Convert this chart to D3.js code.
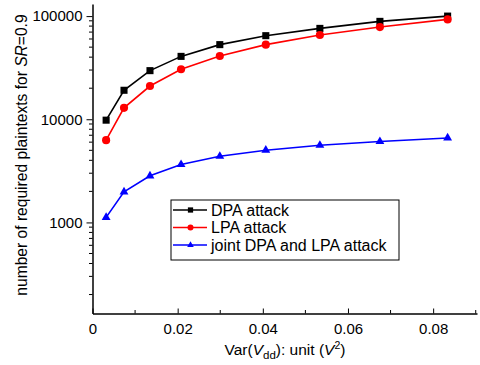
<!DOCTYPE html>
<html>
<head>
<meta charset="utf-8">
<script src="https://cdn.jsdelivr.net/npm/d3@7"></script>
<style>
  body { margin: 0; background: #fff; }
  text { font-family: "Liberation Sans", Arial, sans-serif; }
</style>
</head>
<body>
<div id="container"></div>
<script>
// data
const varVdd = [0.0032, 0.0074, 0.0135, 0.0208, 0.0299, 0.0407, 0.0534, 0.0675, 0.0834];
const dpa = [9800, 19100, 29600, 40700, 52900, 64600, 76000, 88900, 100000];
const lpa = [6270, 12900, 21000, 30500, 41000, 52900, 65500, 78300, 92900];
const joint = [1120, 1980, 2830, 3640, 4380, 5010, 5600, 6080, 6590];
const xTicks = [0, 0.02, 0.04, 0.06, 0.08];
const yTicks = [1000, 10000, 100000];

const series = [
  { name: "DPA attack", values: dpa, color: "#000000", symbol: d3.symbolSquare, size: 50 },
  { name: "LPA attack", values: lpa, color: "#ff0000", symbol: d3.symbolCircle, size: 52 },
  { name: "joint DPA and LPA attack", values: joint, color: "#0000ff", symbol: d3.symbolTriangle, size: 34 }
];

const width = 480, height = 365;
const mLeft = 92.5, mRight = 477, mTop = 4, mBottom = 313.5;

const svg = d3.select("#container").append("svg")
  .attr("width", width)
  .attr("height", height);

const x = d3.scaleLinear().domain([0, 0.0903]).range([mLeft, mRight]);
const y = d3.scaleLog().domain([131, 131000]).range([mBottom, mTop]);

// minor ticks on y (2..9 of each decade)
const yMinor = [];
[100, 1000, 10000, 100000].forEach(dec => {
  for (let k = 2; k <= 9; k++) {
    const v = dec * k;
    if (v > 131 && v < 131000) yMinor.push(v);
  }
});

const yAxis = svg.append("g").attr("transform", `translate(${mLeft},0)`);
yAxis.call(d3.axisLeft(y).tickValues(yTicks).tickFormat(d3.format("d")).tickSize(6).tickSizeOuter(0))
  .call(g => g.selectAll("text").attr("font-size", 15).attr("font-family", "Liberation Sans, Arial, sans-serif").attr("dx", "-1"));
yAxis.selectAll(".minor").data(yMinor).join("line")
  .attr("class", "minor")
  .attr("x1", -3.5).attr("x2", 0)
  .attr("y1", d => y(d)).attr("y2", d => y(d))
  .attr("stroke", "#000");

const xAxis = svg.append("g").attr("transform", `translate(0,${mBottom})`);
xAxis.call(d3.axisBottom(x).tickValues(xTicks).tickFormat(d => d === 0 ? "0" : d3.format(".2f")(d)).tickSize(-5).tickSizeOuter(0).tickPadding(10))
  .call(g => g.selectAll("text").attr("font-size", 15).attr("font-family", "Liberation Sans, Arial, sans-serif"));
xAxis.selectAll(".minor").data([0.01, 0.03, 0.05, 0.07, 0.09]).join("line")
  .attr("class", "minor")
  .attr("y1", -3.5).attr("y2", 0)
  .attr("x1", d => x(d)).attr("x2", d => x(d))
  .attr("stroke", "#000");

svg.selectAll(".domain").attr("stroke-width", 1.5);

// lines and markers
const line = d3.line().x((d, i) => x(varVdd[i])).y(d => y(d));
series.forEach(s => {
  svg.append("path")
    .attr("d", line(s.values))
    .attr("fill", "none")
    .attr("stroke", s.color)
    .attr("stroke-width", 1.6);
  svg.append("g").selectAll("path").data(s.values).join("path")
    .attr("transform", (d, i) => `translate(${x(varVdd[i])},${y(d)})`)
    .attr("d", d3.symbol().type(s.symbol).size(s.size))
    .attr("fill", s.color);
});

// legend
const lg = svg.append("g").attr("transform", "translate(171,200)");
lg.append("rect").attr("width", 228).attr("height", 60)
  .attr("fill", "#fff").attr("stroke", "#000").attr("stroke-width", 1);
series.forEach((s, i) => {
  const yy = 10 + i * 17.5;
  lg.append("line").attr("x1", 2).attr("x2", 36).attr("y1", yy).attr("y2", yy)
    .attr("stroke", s.color).attr("stroke-width", 1.5);
  lg.append("path").attr("transform", `translate(19.5,${yy})`)
    .attr("d", d3.symbol().type(s.symbol).size(s.size * 0.55)).attr("fill", s.color);
  lg.append("text").attr("x", 40).attr("y", yy + 5.5)
    .attr("font-size", 16).text(s.name);
});

// axis titles
const xt = svg.append("text").attr("x", 285).attr("y", 355)
  .attr("text-anchor", "middle").attr("font-size", 15.5);
xt.append("tspan").text("Var(");
xt.append("tspan").attr("font-style", "italic").text("V");
xt.append("tspan").attr("font-size", 11.5).attr("dy", 4).text("dd");
xt.append("tspan").attr("dy", -4).text("): unit (");
xt.append("tspan").attr("font-style", "italic").text("V");
xt.append("tspan").attr("font-size", 10.5).attr("dy", -6).text("2");
xt.append("tspan").attr("dy", 6).text(")");

const yt = svg.append("text")
  .attr("transform", "translate(27,155) rotate(-90)")
  .attr("text-anchor", "middle").attr("font-size", 15.6);
yt.append("tspan").text("number of required plaintexts for ");
yt.append("tspan").attr("font-style", "italic").text("SR");
yt.append("tspan").text("=0.9");
</script>
</body>
</html>
